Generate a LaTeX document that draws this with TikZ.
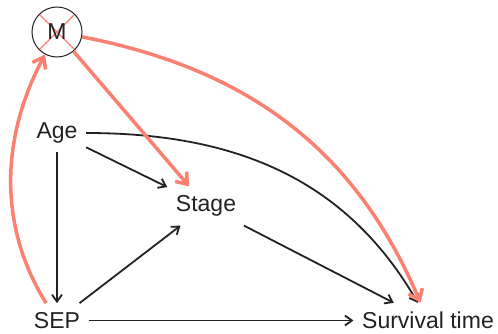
\documentclass[tikz,border=0pt]{standalone}
\usepackage{fontspec}
\setmainfont{Liberation Sans}
\usepackage{xcolor}
\definecolor{ink}{HTML}{222222}
\definecolor{salmon}{HTML}{FA8072}
\usetikzlibrary{arrows.meta,positioning}

\begin{document}
\begin{tikzpicture}[x=1pt, y=1pt,
		var/.style={text=ink, inner xsep=8.5pt, inner ysep=9pt, font=\fontsize{23}{28}\selectfont},
		edge/.style={ink, line width=1.8pt, -{Straight Barb[length=7pt,width=10pt]}},
		bias/.style={salmon, line width=3.5pt, -{Straight Barb[length=10pt,width=15pt]}}]

		% ---------- fixed frame, same proportions as the figure
		\useasboundingbox (0,0) rectangle (498,333);

		% ---------- variables
		\node[var] (age) at (57,200) {Age};
		\node[var] (stage) at (206,127) {Stage};
		\node[var] (sep) at (57,12.5) {SEP};
		\node[var] (surv) at (428,12.5) {Survival time};

		% mediator, crossed out (cross clipped to the circle, text on top)
		\node[var, circle, draw=ink, line width=1pt, minimum size=50pt, inner sep=0pt,
			path picture={\draw[salmon, line width=1.4pt]
				(path picture bounding box.north east) -- (path picture bounding box.south west)
				(path picture bounding box.north west) -- (path picture bounding box.south east);}]
			(m) at (57,301) {M};

		% ---------- causal paths
		\draw[edge] (age) -- (sep);
		\draw[edge] (age) -- (stage);
		\draw[edge] (sep) -- (stage);
		\draw[edge] (sep) -- (surv);
		\draw[edge] (stage) -- (surv);
		\draw[edge] (age) to[out=0, in=120] (surv);

		% ---------- paths through M
		\draw[bias] (m) -- (stage);
		\draw[bias] (m) to[out=-11, in=113] (surv);
		\draw[bias] (sep) to[out=122, in=-118, looseness=0.95] (m);
	\end{tikzpicture}
\end{document}
